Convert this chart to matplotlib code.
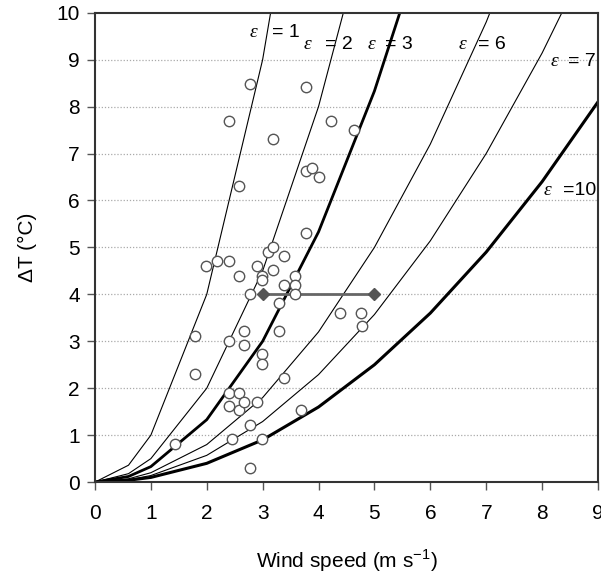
import matplotlib
matplotlib.use("Agg")
from matplotlib import pyplot as plt

# measured points: wind speed (m/s) and delta T (C)
wind = [2.77, 3.77, 2.39, 4.22, 3.19, 4.63, 2.58, 3.77, 3.88, 4.00,
        3.78, 1.99, 2.19, 2.39, 2.58, 2.78, 2.90, 2.99, 2.99, 3.10,
        3.19, 3.19, 3.39, 3.39, 3.58, 3.58, 3.58, 3.29, 4.38, 4.76,
        4.78, 1.79, 1.79, 2.39, 2.67, 2.67, 3.29, 2.99, 2.99, 3.39,
        2.39, 2.58, 2.39, 2.58, 2.67, 2.90, 3.68, 2.78, 1.43, 2.46,
        2.99, 2.78]
dtemp = [8.49, 8.41, 7.70, 7.70, 7.30, 7.50, 6.31, 6.62, 6.70, 6.51,
         5.30, 4.60, 4.71, 4.71, 4.40, 4.01, 4.60, 4.40, 4.31, 4.91,
         5.01, 4.51, 4.81, 4.19, 4.40, 4.19, 4.01, 3.82, 3.61, 3.61,
         3.33, 3.12, 2.31, 3.00, 3.21, 2.92, 3.21, 2.72, 2.51, 2.22,
         1.90, 1.90, 1.62, 1.53, 1.70, 1.70, 1.53, 1.21, 0.82, 0.92,
         0.92, 0.30]

# range bar
bar_x = [3.0, 5.0]
bar_y = [4.0, 4.0]

# epsilon curves
u_curve = [0, 0.6, 1, 2, 3, 4, 5, 6, 7, 8, 9]
dt_e1 = [0, 0.36, 1.0, 4.0, 9.0, 16.0]
dt_e2 = [0, 0.18, 0.5, 2.0, 4.5, 8.0, 12.5]
dt_e3 = [0, 0.12, 0.33, 1.33, 3.0, 5.33, 8.33, 12.0]
dt_e6 = [0, 0.07, 0.2, 0.8, 1.8, 3.2, 5.0, 7.2, 9.8, 12.8]
dt_e7 = [0, 0.05, 0.14, 0.57, 1.29, 2.29, 3.57, 5.14, 7.0, 9.14, 11.57]
dt_e10 = [0, 0.04, 0.1, 0.4, 0.9, 1.6, 2.5, 3.6, 4.9, 6.4, 8.1]

curves = [dt_e1, dt_e2, dt_e3, dt_e6, dt_e7, dt_e10]
eps_labels = ["= 1", "= 2", "= 3", "= 6", "= 7", "=10"]

plt.rcParams["font.family"] = ["Liberation Sans", "DejaVu Sans"]
plt.rcParams["axes.unicode_minus"] = False

fig = plt.figure(figsize=(6.01, 5.76), dpi=100)
ax = fig.add_axes([0.158, 0.163, 0.837, 0.815])

for yv in range(1, 10):
    ax.axhline(yv, color="#aaaaaa", lw=0.9, ls=(0, (1, 1.5)), zorder=0)

widths = [0.8, 0.8, 2.0, 0.8, 0.8, 2.2]
for dt, lw in zip(curves, widths):
    ax.plot(u_curve[:len(dt)], dt, color="black", lw=lw, zorder=2)

ax.plot(bar_x, bar_y, color="#666666", lw=2, marker="D", ms=6,
        mfc="#555555", mec="#555555", zorder=3)

ax.plot(wind, dtemp, ls="none", marker="o", ms=7.5, mfc="white",
        mec="#555555", mew=1.0, zorder=4)

# label positions: (eps x, text x, y)
label_pos = [(2.77, 3.17, 9.57), (3.73, 4.11, 9.32), (4.88, 5.19, 9.32),
             (6.50, 6.85, 9.32), (8.15, 8.46, 8.96), (8.02, 8.38, 6.21)]
for (ex, tx, ty), lab in zip(label_pos, eps_labels):
    ax.text(ex, ty, "\u03b5", family="Liberation Serif", style="italic",
            fontsize=14, ha="left", va="center", zorder=5)
    ax.text(tx, ty, lab, fontsize=14, ha="left", va="center", zorder=5,
            clip_on=True)

ax.set_xlim(0, 9)
ax.set_ylim(0, 10)
ax.set_xticks(range(0, 10))
ax.set_yticks(range(0, 11))
ax.tick_params(axis="both", direction="out", length=6, width=1,
               color="#555555", labelsize=15)
ax.tick_params(axis="x", pad=10)
ax.tick_params(axis="y", pad=5)
for s in ax.spines.values():
    s.set_color("#333333")
    s.set_linewidth(1.5)

ax.set_xlabel("Wind speed (m s$^{\\mathregular{-1}}$)", fontsize=15,
              labelpad=17)
ax.set_ylabel("\u0394T (\u00b0C)", fontsize=15, labelpad=14)

fig.savefig("out.png", dpi=100)
